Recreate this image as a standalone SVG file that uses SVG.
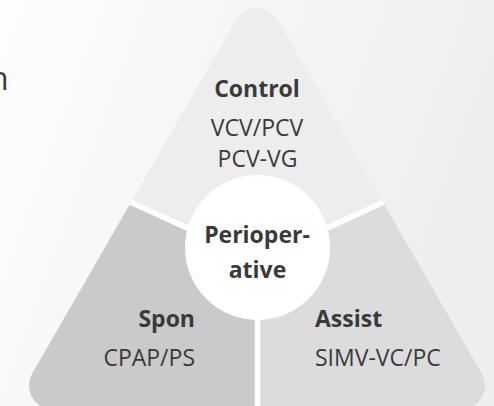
<svg xmlns="http://www.w3.org/2000/svg" width="494" height="406" viewBox="0 0 494 406">
  <defs>
    <linearGradient id="bg" x1="0" y1="0" x2="1" y2="0.3">
      <stop offset="0" stop-color="#fdfdfd"/>
      <stop offset="1" stop-color="#eeeeee"/>
    </linearGradient>
    <mask id="tri" maskUnits="userSpaceOnUse" x="0" y="0" width="494" height="420">
      <polygon points="257,32.1 53,385.6 461,385.6" fill="#fff" stroke="#fff" stroke-width="48" stroke-linejoin="round"/>
    </mask>
    <style>
      .t { font-family: "Open Sans", "Liberation Sans", sans-serif; font-size: 23px; fill: #3a3a3a; }
      .b { font-weight: bold; }
      .div { stroke: #ffffff; stroke-width: 5.5; fill: none; }
    </style>
  </defs>
  <rect x="0" y="0" width="494" height="406" fill="url(#bg)"/>
  <text class="t" x="8.5" y="90" text-anchor="end" style="font-size:32px">n</text>
  <g mask="url(#tri)">
    <g id="control">
      <rect x="0" y="0" width="494" height="420" fill="#ededed"/>
    </g>
    <g id="spon">
      <polygon points="257,260 0,142.5 0,420 257,420" fill="#c9cac9"/>
    </g>
    <g id="assist">
      <polygon points="257,260 494,151.7 494,420 257,420" fill="#dbdcdb"/>
    </g>
    <g id="connectors">
      <line class="div" x1="257" y1="260" x2="0" y2="142.5"/>
      <line class="div" x1="257" y1="260" x2="494" y2="151.7"/>
      <line class="div" x1="257.5" y1="255" x2="257.5" y2="420"/>
    </g>
  </g>
  <g id="control-label">
    <text class="t b" x="257" y="97" text-anchor="middle">Control</text>
    <text class="t" x="257" y="136" text-anchor="middle">VCV/PCV</text>
    <text class="t" x="257.5" y="166.5" text-anchor="middle">PCV-VG</text>
  </g>
  <g id="perioperative">
    <circle cx="257.5" cy="247.5" r="72.5" fill="#ffffff"/>
    <text class="t b" x="257" y="242.5" text-anchor="middle">Perioper-</text>
    <text class="t b" x="257.5" y="278" text-anchor="middle">ative</text>
  </g>
  <g id="spon-label">
    <text class="t b" x="195" y="327" text-anchor="end">Spon</text>
    <text class="t" x="195" y="366" text-anchor="end">CPAP/PS</text>
  </g>
  <g id="assist-label">
    <text class="t b" x="315" y="327">Assist</text>
    <text class="t" x="315" y="366">SIMV-VC/PC</text>
  </g>
</svg>
